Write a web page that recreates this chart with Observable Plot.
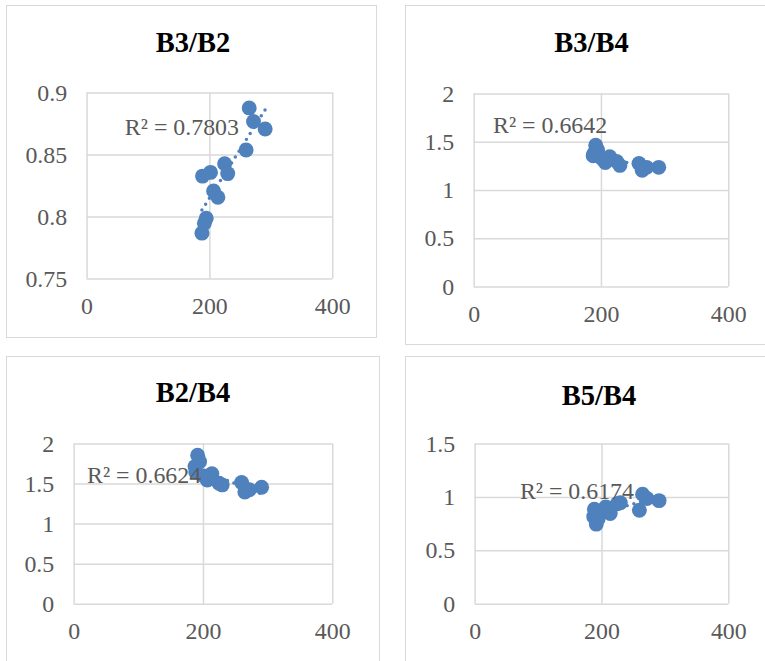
<!DOCTYPE html>
<html>
<head>
<meta charset="utf-8">
<script src="https://cdn.jsdelivr.net/npm/d3@7"></script>
<script src="https://cdn.jsdelivr.net/npm/@observablehq/plot@0.6"></script>
<style>
  html, body { margin: 0; padding: 0; background: #fff; }
  #page { position: relative; width: 765px; height: 661px; overflow: hidden; background: #fff; font-family: "Liberation Serif", "Times New Roman", serif; }
  .box { position: absolute; border: 1.5px solid #d9d9d9; box-sizing: border-box; background: #fff; }
  .box svg { position: absolute; left: 0; top: 0; overflow: visible; }
  .title { position: absolute; width: 200px; text-align: center; font-weight: bold; font-size: 28.5px; line-height: 28px; color: #000; }
</style>
</head>
<body>
<div id="page"></div>
<script>
// ---- data ----
const sampleX = [187, 188, 191, 194, 201, 206, 213, 224, 229, 259, 264, 271, 290];
const ratioB3B2 = [0.787, 0.833, 0.795, 0.799, 0.836, 0.821, 0.816, 0.843, 0.835, 0.854, 0.888, 0.877, 0.871];
const ratioB3B4 = [1.36, 1.38, 1.47, 1.42, 1.33, 1.29, 1.35, 1.30, 1.26, 1.28, 1.21, 1.24, 1.24];
const ratioB2B4 = [1.72, 1.65, 1.86, 1.78, 1.60, 1.55, 1.63, 1.51, 1.49, 1.52, 1.40, 1.43, 1.46];
const ratioB5B4 = [0.82, 0.89, 0.75, 0.80, 0.88, 0.91, 0.85, 0.94, 0.95, 0.88, 1.03, 0.99, 0.97];
const panelTitles = ["B3/B2", "B3/B4", "B2/B4", "B5/B4"];
const r2Labels = ["R² = 0.7803", "R² = 0.6642", "R² = 0.6624", "R² = 0.6174"];
const xTicks = [0, 200, 400];
const yTicksB3B2 = [0.75, 0.8, 0.85, 0.9];
const yTicksB3B4 = [0, 0.5, 1, 1.5, 2];
const yTicksB2B4 = [0, 0.5, 1, 1.5, 2];
const yTicksB5B4 = [0, 0.5, 1, 1.5];

const BLUE = "#4f81bd";
const GRID = "#d9d9d9";
const TEXT = "#595959";
const FS = 24;

const panels = [
  {vals: ratioB3B2, ticks: yTicksB3B2, title: panelTitles[0], r2: r2Labels[0],
   left: 6, top: 5, w: 371, h: 333, mL: 80, mR: 44, mT: 87, mB: 59, tx: 186, ty: 23, dx: 38, dy: 35},
  {vals: ratioB3B4, ticks: yTicksB3B4, title: panelTitles[1], r2: r2Labels[1],
   left: 405, top: 5, w: 371, h: 340, mL: 68, mR: 47, mT: 88, mB: 58, tx: 185.5, ty: 23, dx: 19, dy: 32},
  {vals: ratioB2B4, ticks: yTicksB2B4, title: panelTitles[2], r2: r2Labels[2],
   left: 6, top: 356, w: 374, h: 320, mL: 67, mR: 47, mT: 87, mB: 72, tx: 186, ty: 22, dx: 13, dy: 32},
  {vals: ratioB5B4, ticks: yTicksB5B4, title: panelTitles[3], r2: r2Labels[3],
   left: 405, top: 356, w: 386, h: 320, mL: 69, mR: 62, mT: 87, mB: 72, tx: 193, ty: 25, dx: 45, dy: 48}
];

const page = document.getElementById("page");

for (const p of panels) {
  const data = sampleX.map((x, i) => ({x, y: p.vals[i]}));
  const yDomain = [d3.min(p.ticks), d3.max(p.ticks)];
  const box = document.createElement("div");
  box.className = "box";
  box.style.left = p.left + "px";
  box.style.top = p.top + "px";
  box.style.width = p.w + "px";
  box.style.height = p.h + "px";

  const chart = Plot.plot({
    width: p.w,
    height: p.h,
    marginLeft: p.mL, marginRight: p.mR, marginTop: p.mT, marginBottom: p.mB,
    style: {fontFamily: "Liberation Serif, Times New Roman, serif", fontSize: FS + "px", color: TEXT, background: "transparent", overflow: "visible"},
    x: {domain: [0, 400], ticks: xTicks, tickFormat: d => String(d), label: null},
    y: {domain: yDomain, ticks: p.ticks, tickFormat: d => String(d), label: null},
    marks: [
      Plot.gridX(xTicks, {stroke: GRID, strokeOpacity: 1, strokeWidth: 1.5}),
      Plot.gridY(p.ticks, {stroke: GRID, strokeOpacity: 1, strokeWidth: 1.5}),
      Plot.axisX({ticks: xTicks, tickSize: 0, tickPadding: 18, fontSize: FS, fill: TEXT, label: null, tickFormat: d => String(d)}),
      Plot.axisY({ticks: p.ticks, tickSize: 0, tickPadding: 20, fontSize: FS, fill: TEXT, label: null, tickFormat: d => String(d)}),
      Plot.linearRegressionY(data, {x: "x", y: "y", ci: 0, stroke: BLUE, strokeWidth: 3.5, strokeDasharray: "0 7", strokeLinecap: "round"}),
      Plot.dot(data, {x: "x", y: "y", r: 7.5, fill: BLUE, stroke: "none"}),
      Plot.text([p.r2], {text: d => d, frameAnchor: "top-left", dx: p.dx, dy: p.dy, textAnchor: "start", lineAnchor: "middle", fontSize: FS, fill: TEXT})
    ]
  });
  box.appendChild(chart);

  const t = document.createElement("div");
  t.className = "title";
  t.textContent = p.title;
  t.style.left = (p.tx - 100) + "px";
  t.style.top = p.ty + "px";
  box.appendChild(t);

  page.appendChild(box);
}
</script>
</body>
</html>
